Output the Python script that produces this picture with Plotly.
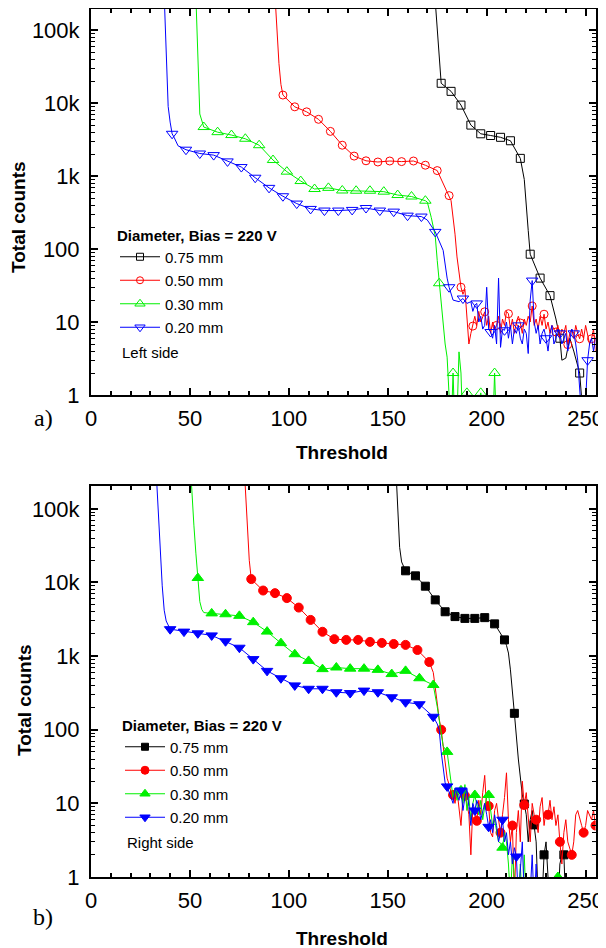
import plotly.graph_objects as go

# ---------------- data: panel a) Left side (open symbols) ----------------
A75_T = [174, 175, 176, 177, 182, 187, 192, 197, 202, 207, 212, 217, 219, 220, 221, 222, 227, 232, 235, 237,
         238, 240, 242, 244, 247, 249]
A75_C = [250000, 100000, 40000, 18700, 14500, 9400, 5000, 3800, 3600, 3400, 3050, 1750, 900, 450, 180, 85, 40, 23, 11, 6,
         3, 3.2, 6, 4, 2, 0.4]
A75_M = [177, 182, 187, 192, 197, 202, 207, 212, 217, 222, 227, 232, 237, 247]

A50_T = [93, 94, 95, 96, 97, 103, 109, 115, 121, 127, 133, 139, 145, 151, 157, 163, 169, 175, 181, 182, 184, 185, 187,
         188, 189, 190, 191, 192, 193, 194, 195, 196, 197,
         198, 199, 200, 201, 202, 203, 204, 205, 206, 207,
         208, 209, 210, 211, 212, 213, 214, 215, 216, 217,
         218, 219, 220, 221, 222, 223, 224, 225, 226, 227,
         228, 229, 230, 231, 232, 233, 234, 235, 236, 237,
         238, 239, 240, 241, 242, 243, 244, 245, 246, 247,
         248, 249, 250, 251, 252, 253, 254, 255]
A50_C = [300000, 90000, 35000, 18000, 12900, 8900, 7600, 6000, 4100, 2650, 1880, 1620, 1560, 1610, 1580, 1610, 1410,
         1190, 540, 460, 160, 78, 30,
         24, 28, 10, 5, 7, 8.8, 12, 9, 14, 10,
         12, 13.8, 9, 12, 7, 10, 8, 9, 12, 7,
         11, 9, 14, 13, 8, 11, 7, 10, 12, 9.7,
         7, 11, 9, 12, 10, 16.6, 9, 11, 8, 12,
         9, 12.8, 8, 10, 7, 9, 8, 7.3, 9, 6,
         8, 7, 9, 4.9, 7, 8, 6, 9, 7, 5.9,
         8, 6, 9, 7, 5, 5.9, 8, 4]
A50_M = [97, 103, 109, 115, 121, 127, 133, 139, 145, 151, 157, 163, 169, 175, 181, 187, 193, 199, 205, 211, 217, 223,
         229, 235, 241, 247, 253]

A30_T = [53, 54, 55, 57, 64, 71, 78, 85, 92, 99, 106, 113, 120, 127, 134, 141, 148, 155, 162, 169,
         170, 172, 174, 175, 176, 177, 178, 179, 180,
         181, 182, 183, 184, 185, 186, 187, 188, 189, 190, 191,
         196, 197, 198, 203, 204, 205]
A30_C = [300000, 30000, 7100, 4700, 4000, 3650, 3250, 2650, 1660, 1150, 855, 665, 690, 635, 630, 630, 612, 550, 525, 460,
         440, 270, 150, 70, 34, 18, 9.5, 5, 3.3,
         0.5, 0.3, 2, 0.3, 0.5, 3.9, 2, 0.3, 0.3, 1.07, 0.3,
         0.3, 1.07, 0.3, 0.3, 2, 0.3]
A30_M = [57, 64, 71, 78, 85, 92, 99, 106, 113, 120, 127, 134, 141, 148, 155, 162, 169, 176, 183, 190, 197, 204]

A20_T = [37, 38, 39, 40, 41, 42, 44, 48, 55, 62, 69, 76, 83, 90, 97, 104, 111, 118, 125, 132, 139, 146, 153, 160, 167,
         170, 174, 176, 178, 180, 181, 183, 185, 186, 188, 190, 192, 193, 194, 195,
         196, 197, 198, 199, 200, 201, 202, 203, 204, 205,
         206, 207, 208, 209, 210, 211, 212, 213, 214, 215,
         216, 217, 218, 219, 220, 221, 222, 223, 224, 225,
         226, 227, 228, 229, 230, 231, 232, 233, 234, 235,
         236, 237, 238, 239, 240, 241, 242, 243, 244, 245,
         246, 247, 248, 249, 250, 251, 252, 253, 254, 255]
A20_C = [300000, 40000, 9000, 5500, 3800, 3400, 2600, 2300, 2040, 1940, 1590, 1330, 950, 690, 530, 420, 355, 337, 337,
         344, 365, 337, 326, 287, 279,
         250, 172, 130, 96, 40, 30, 20, 19, 19, 21, 18, 19, 14, 17, 18,
         10, 12, 8, 9, 30, 8, 7.3, 6, 9, 5,
         40, 4.5, 8, 7.7, 10, 6, 9, 5, 8, 7,
         9, 6, 5, 8, 7, 3.7, 20, 37, 10, 7,
         9, 5, 7, 8, 6, 4, 7, 9, 5, 6,
         8, 7, 5, 6, 7, 4, 6, 8, 7, 5,
         3, 1.5, 0.5, 0.4, 0.8, 3, 5, 6, 4, 6]
A20_M = [41, 48, 55, 62, 69, 76, 83, 90, 97, 104, 111, 118, 125, 132, 139, 146, 153, 160, 167, 174, 181, 188, 195, 202,
         209, 216, 223, 230, 237, 244, 251]

# ---------------- data: panel b) Right side (filled symbols) ----------------
B75_T = [154, 155, 156, 157, 159, 164, 169, 174, 179, 184, 189, 194, 199, 204, 209, 210, 211, 212, 213, 214,
         216, 217, 218, 219, 220, 221, 222, 223, 224, 225, 226,
         228, 229, 230, 231, 232, 234, 236, 237, 238, 239, 240]
B75_C = [400000, 100000, 30000, 19000, 14400, 12300, 8900, 5800, 4000, 3440, 3250, 3250, 3330, 2740, 1660, 1400, 1100,
         650, 350, 167,
         40, 22, 13, 9.8, 7, 3, 6, 8, 5.1, 3, 0.5,
         0.5, 2, 3, 1, 0.4, 0.4, 0.4, 1.5, 2, 2, 0.4]
B75_M = [159, 164, 169, 174, 179, 184, 189, 194, 199, 204, 209, 214, 219, 224, 229, 234, 239]

B50_T = [77, 78, 79, 80, 81, 87, 93, 99, 105, 111, 117, 123, 129, 135, 141, 147, 153, 159, 165, 171,
         173, 174, 175, 176, 177, 178, 179, 180, 181, 182, 183,
         184, 185, 186, 187, 188, 189, 190, 191, 192, 193,
         194, 195, 196, 197, 198, 199, 200, 201, 202, 203,
         204, 205, 206, 207, 208, 209, 210, 211, 212, 213,
         214, 215, 216, 217, 218, 219, 220, 221, 222, 223,
         224, 225, 226, 227, 228, 229, 230, 231, 232, 233,
         234, 235, 236, 237, 238, 239, 240, 241, 242, 243,
         244, 245, 246, 247, 248, 249, 250, 251, 252, 253,
         254, 255]
B50_C = [600000, 200000, 60000, 20000, 11100, 7770, 7160, 6130, 4560, 3100, 2140, 1700, 1660, 1660, 1560, 1510, 1460,
         1420, 1210, 830,
         600, 400, 230, 140, 100, 60, 35, 22, 18, 14, 13,
         10, 15, 9, 5, 12, 12.7, 10, 7, 2, 9,
         8, 5.8, 11, 7, 14, 24, 8, 9.2, 4, 3.5,
         8, 10, 6, 4, 7, 12, 26, 6, 3, 5,
         0.5, 4, 8, 3, 20, 9.5, 14, 6, 3, 10,
         7, 6, 4, 9, 12, 5, 8, 7, 11, 6,
         9, 5, 7, 3, 1.5, 4, 6, 3, 2.5, 2,
         3, 7, 8, 6, 5, 4, 5, 8, 7, 6,
         8, 5]
B50_M = [81, 87, 93, 99, 105, 111, 117, 123, 129, 135, 141, 147, 153, 159, 165, 171, 177, 183, 189, 195, 201, 207,
         213, 219, 225, 231, 237, 243, 249, 255]

B30_T = [50, 51, 52, 53, 54, 55, 56, 57, 61, 68, 75, 82, 89, 96, 103, 110, 117, 124, 131, 138, 145, 152, 159, 166,
         173, 175, 177, 178, 180,
         181, 182, 183, 184, 185, 186, 187, 188, 189, 190,
         191, 192, 193, 194, 195, 196, 197, 198, 199, 200,
         201, 202, 203, 204, 205, 206, 207, 208, 209, 210,
         211, 212, 213, 214, 215, 216, 217, 218, 219, 220,
         221, 222, 229, 235, 236, 237]
B30_C = [500000, 150000, 60000, 25000, 11500, 5500, 4300, 3900, 3800, 3700, 3520, 2890, 2150, 1500, 1060, 860, 665,
         700, 675, 675, 650, 570, 630, 500,
         405, 206, 81, 60, 50,
         30, 18, 12, 16, 11, 14, 15, 10, 18, 8,
         12, 6, 10, 13, 9, 7, 11, 6, 9, 12,
         13, 8, 5, 6, 4, 3, 2.9, 2.5, 4, 3,
         1.5, 0.5, 2, 1, 0.5, 0.4, 1.5, 0.4, 2, 0.4,
         0.5, 0.4, 0.4, 0.4, 1, 0.4]
B30_M = [54, 61, 68, 75, 82, 89, 96, 103, 110, 117, 124, 131, 138, 145, 152, 159, 166, 173, 180, 187, 194, 201, 208,
         215, 222, 229, 236]

B20_T = [33, 34, 35, 36, 37, 38, 40, 47, 54, 61, 68, 75, 82, 89, 96, 103, 110, 117, 124, 131, 138, 145, 152, 159, 166,
         173, 175, 176, 177, 178, 179, 180,
         181, 182, 183, 184, 185, 186, 187, 188, 189, 190,
         191, 192, 193, 194, 195, 196, 197, 198, 199, 200,
         201, 202, 203, 204, 205, 206, 207, 208, 209, 210,
         211, 212, 213, 214, 215, 216, 217, 218, 219, 220,
         221, 222, 223, 224, 225, 226, 229, 236, 237]
B20_C = [300000, 80000, 30000, 9000, 4200, 3000, 2320, 2150, 2040, 1910, 1590, 1300, 910, 630, 500, 400, 360, 360, 323,
         315, 340, 323, 276, 236, 222,
         150, 120, 100, 50, 30, 19, 17,
         14, 12, 10, 16, 13, 11, 15, 8, 12, 16,
         9, 5, 10, 8, 11, 9, 6, 8, 10, 7,
         4.8, 6, 4, 7, 5, 3, 4, 6, 3, 4,
         2, 3, 1.5, 2.5, 1.9, 0.5, 1.2, 3, 0.5, 1,
         0.4, 0.6, 2, 0.4, 1.5, 0.4, 0.4, 0.4, 0.4]
B20_M = [40, 47, 54, 61, 68, 75, 82, 89, 96, 103, 110, 117, 124, 131, 138, 145, 152, 159, 166, 173, 180, 187, 194, 201,
         208, 215, 222, 229, 236]

NAMES = ["0.75 mm", "0.50 mm", "0.30 mm", "0.20 mm"]
X_TICKS = [0, 50, 100, 150, 200, 250]
Y_TICKS = [1, 10, 100, 1000, 10000, 100000]
Y_LABELS = ["1", "10", "100", "1k", "10k", "100k"]

for t, c in [(A75_T, A75_C), (A50_T, A50_C), (A30_T, A30_C), (A20_T, A20_C),
             (B75_T, B75_C), (B50_T, B50_C), (B30_T, B30_C), (B20_T, B20_C)]:
    assert len(t) == len(c), (len(t), len(c))

# ---------------- figure ----------------
# The page body has an 8 px margin, so the figure is 8 px smaller than the window
# and all layout positions (given in window pixels) are shifted by that offset.
OFF = 8
W, H = 606 - OFF, 948 - OFF
FONT = "Liberation Sans, Arial, sans-serif"
COLORS = ["#000000", "#ff0000", "#00f000", "#0000ff"]


def px(x):
    return (x - OFF) / W


def py(y):
    return 1 - (y - OFF) / H


fig = go.Figure()


def add_series(T, C, M, name, color, symbol, msize, xa, ya, legend, group):
    fig.add_trace(go.Scatter(x=T, y=C, mode="lines", line=dict(color=color, width=1),
                             xaxis=xa, yaxis=ya, showlegend=False, hoverinfo="skip"))
    mc = [C[T.index(m)] for m in M]
    fig.add_trace(go.Scatter(x=M, y=mc, mode="markers",
                             marker=dict(symbol=symbol, size=msize, color=color, line=dict(width=1, color=color)),
                             xaxis=xa, yaxis=ya, showlegend=False, hoverinfo="skip"))
    fig.add_trace(go.Scatter(x=[None], y=[None], mode="lines+markers", name=name,
                             line=dict(color=color, width=1), legendgroup=group,
                             marker=dict(symbol=symbol, size=msize - 1, color=color, line=dict(width=1, color=color)),
                             xaxis=xa, yaxis=ya, legend=legend))


panel_a = [(A75_T, A75_C, A75_M), (A50_T, A50_C, A50_M), (A30_T, A30_C, A30_M), (A20_T, A20_C, A20_M)]
panel_b = [(B75_T, B75_C, B75_M), (B50_T, B50_C, B50_M), (B30_T, B30_C, B30_M), (B20_T, B20_C, B20_M)]
open_sym = ["square-open", "circle-open", "triangle-up-open", "triangle-down-open"]
fill_sym = ["square", "circle", "triangle-up", "triangle-down"]
open_size = [8, 8, 10, 10]
fill_size = [8, 9, 10, 10]

for i, (T, C, M) in enumerate(panel_a):
    add_series(T, C, M, NAMES[i], COLORS[i], open_sym[i], open_size[i], "x", "y", "legend", "a%d" % i)
for i, (T, C, M) in enumerate(panel_b):
    add_series(T, C, M, NAMES[i], COLORS[i], fill_sym[i], fill_size[i], "x2", "y2", "legend2", "b%d" % i)

minor_y = [k * 10 ** e for e in range(0, 6) for k in range(2, 10)]

xcommon = dict(range=[0, 255], tickvals=X_TICKS, showgrid=False, zeroline=False, showline=True, automargin=False,
               linecolor="black", linewidth=2, mirror="ticks", ticks="inside", ticklen=7, tickwidth=1.5,
               tickcolor="black", tickfont=dict(size=22, family=FONT, color="black"), ticklabelstandoff=3,
               minor=dict(ticks="inside", ticklen=4, tickwidth=1.5, tickcolor="black", dtick=10, tick0=0,
                          showgrid=False))
ycommon = dict(type="log", tickvals=Y_TICKS, ticktext=Y_LABELS, showgrid=False, zeroline=False, showline=True,
               automargin=False,
               linecolor="black", linewidth=2, mirror="ticks", ticks="inside", ticklen=7, tickwidth=1.5,
               tickcolor="black", tickfont=dict(size=22, family=FONT, color="black"), ticklabelstandoff=5,
               minor=dict(ticks="inside", ticklen=4, tickwidth=1.2, tickcolor="black", tickvals=minor_y,
                          showgrid=False))

xd = [px(91), px(595.5)]
legend_common = dict(xanchor="left", yanchor="top", bgcolor="rgba(0,0,0,0)", borderwidth=0,
                     font=dict(size=15, family=FONT), itemwidth=40, tracegroupgap=1,
                     title=dict(text="<b>Diameter, Bias = 220 V</b>", font=dict(size=15, family=FONT)))
fig.update_layout(
    template="none",
    width=W, height=H, margin=dict(l=0, r=0, t=0, b=0, pad=0), autosize=False,
    paper_bgcolor="white", plot_bgcolor="white",
    font=dict(family=FONT, color="black"),
    xaxis=dict(domain=xd, anchor="y", **xcommon),
    yaxis=dict(domain=[py(395), py(9)], anchor="x", range=[0, 5.29], **ycommon),
    xaxis2=dict(domain=xd, anchor="y2", **xcommon),
    yaxis2=dict(domain=[py(877), py(486)], anchor="x2", range=[0, 5.31], **ycommon),
    legend=dict(x=px(115), y=py(221), **legend_common),
    legend2=dict(x=px(120), y=py(711), **legend_common),
)

ann = [
    dict(text="Left side", x=px(120), y=py(352), xanchor="left", yanchor="middle", font=dict(size=15)),
    dict(text="Right side", x=px(125), y=py(842), xanchor="left", yanchor="middle", font=dict(size=15)),
    dict(text="<b>Threshold</b>", x=px(342), y=py(453), xanchor="center", yanchor="middle", font=dict(size=19)),
    dict(text="<b>Threshold</b>", x=px(342), y=py(938), xanchor="center", yanchor="middle", font=dict(size=19)),
    dict(text="<b>Total counts</b>", x=px(18), y=py(217), textangle=-90, xanchor="center", yanchor="middle",
         font=dict(size=19)),
    dict(text="<b>Total counts</b>", x=px(24), y=py(700), textangle=-90, xanchor="center", yanchor="middle",
         font=dict(size=19)),
    dict(text="a)", x=px(43), y=py(418), xanchor="center", yanchor="middle",
         font=dict(size=24, family="Liberation Serif, Times New Roman, serif")),
    dict(text="b)", x=px(43), y=py(917), xanchor="center", yanchor="middle",
         font=dict(size=24, family="Liberation Serif, Times New Roman, serif")),
]
for a in ann:
    a.update(xref="paper", yref="paper", showarrow=False)
    fig.add_annotation(**a)

fig.write_html("out.html")
